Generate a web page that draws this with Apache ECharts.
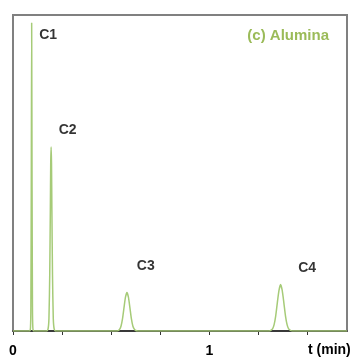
<!DOCTYPE html>
<html>
<head>
<meta charset="utf-8">
<script src="https://cdn.jsdelivr.net/npm/echarts@6/dist/echarts.min.js"></script>
<style>html,body{margin:0;padding:0;background:#fff;}#c{width:358px;height:358px;}</style>
</head>
<body>
<div id="c"></div>
<script>
// Chromatogram points [time (min), relative signal]
var baselineStart = [[0, 0]];
var peakC1 = [[0.085,0],[0.089,0.01],[0.091,0.08],[0.093,0.45],[0.095,0.975],[0.097,0.45],[0.099,0.08],[0.101,0.01],[0.105,0]];
var peakC2 = [[0.170,0],[0.178,0.005],[0.183,0.04],[0.187,0.18],[0.190,0.38],[0.192,0.53],[0.194,0.582],[0.196,0.53],[0.198,0.38],[0.201,0.18],[0.205,0.04],[0.210,0.005],[0.218,0]];
var peakC3 = [[0.530,0],[0.535,0.001],[0.5425,0.005],[0.550,0.016],[0.5575,0.039],[0.565,0.074],[0.5725,0.107],[0.580,0.1215],[0.5875,0.107],[0.595,0.074],[0.6025,0.039],[0.610,0.016],[0.6175,0.006],[0.625,0.0015],[0.635,0]];
var peakC4 = [[1.305,0],[1.312,0.0016],[1.321,0.0065],[1.329,0.020],[1.337,0.047],[1.3455,0.090],[1.354,0.129],[1.362,0.147],[1.370,0.129],[1.3785,0.090],[1.387,0.047],[1.395,0.020],[1.403,0.0065],[1.412,0.002],[1.422,0]];
var baselineEnd = [[1.7, 0]];
var peakLabels = [[0.179,0.936,'C1'],[0.278,0.635,'C2'],[0.676,0.205,'C3'],[1.497,0.2,'C4']];
var tickValues = [0, 0.25, 0.5, 0.75, 1, 1.25, 1.5];
var labelValues = [0, 1];
var titleText = '(c) Alumina';
var axisName = 't (min)';

var trace = [].concat(baselineStart, peakC1, peakC2, peakC3, peakC4, baselineEnd);

var chart = echarts.init(document.getElementById('c'));
chart.setOption({
  animation: false,
  backgroundColor: '#fff',
  title: {
    text: titleText, right: 24, top: 23,
    textStyle: {color: '#9bbb59', fontFamily: 'Liberation Sans', fontWeight: 'bold', fontSize: 15}
  },
  grid: {left: 13, top: 15, right: 11, bottom: 27, show: true, borderColor: '#808080', borderWidth: 2},
  xAxis: {
    type: 'value', min: 0, max: 1.7,
    splitLine: {show: false},
    axisLine: {show: true, lineStyle: {color: '#222', width: 1.5}},
    axisTick: {show: true, inside: false, length: 4, lineStyle: {color: '#333'}, customValues: tickValues},
    axisLabel: {customValues: labelValues, margin: 13, color: '#000', fontFamily: 'Liberation Sans', fontWeight: 'bold', fontSize: 14,
      formatter: function (v) { return String(v); }},
    name: axisName, nameLocation: 'end', nameGap: -39,
    nameTextStyle: {align: 'left', verticalAlign: 'top', padding: [12, 0, 0, 0], color: '#000', fontFamily: 'Liberation Sans', fontWeight: 'bold', fontSize: 14}
  },
  yAxis: {
    type: 'value', min: 0, max: 1,
    axisLine: {show: false}, axisTick: {show: false}, axisLabel: {show: false}, splitLine: {show: false}
  },
  series: [
    {
      type: 'line', data: trace, showSymbol: false, symbol: 'none', smooth: 0.2,
      lineStyle: {color: '#a6cb78', width: 1.5}, z: 3
    },
    {
      type: 'scatter', symbolSize: 1, itemStyle: {color: 'transparent'},
      data: peakLabels.map(function (p) { return {value: [p[0], p[1]], name: p[2]}; }),
      label: {show: true, position: 'inside', formatter: '{b}', color: '#000', fontFamily: 'Liberation Sans', fontWeight: 'bold', fontSize: 14},
      z: 4
    }
  ]
});
</script>
</body>
</html>
